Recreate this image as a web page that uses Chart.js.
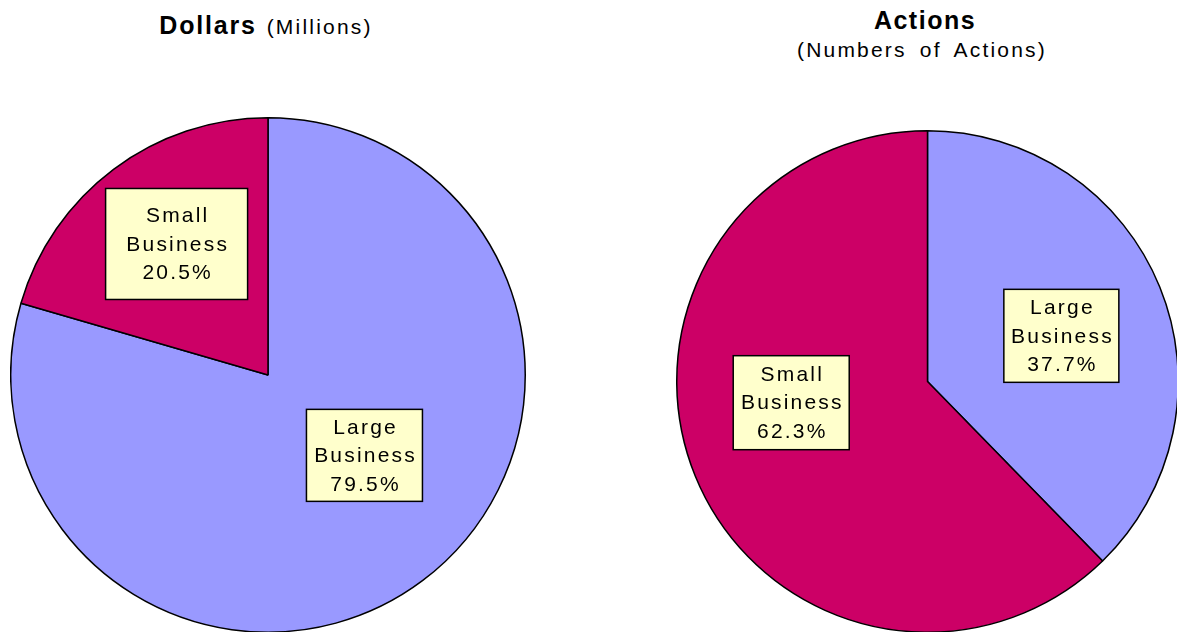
<!DOCTYPE html>
<html><head><meta charset="utf-8">
<script src="https://cdn.jsdelivr.net/npm/chart.js@4/dist/chart.umd.min.js"></script>
<style>
html,body{margin:0;padding:0;width:1177px;height:632px;overflow:hidden;background:#fff;font-family:"Liberation Sans",Arial,sans-serif;}
.t{position:absolute;white-space:nowrap;color:#000;text-align:center;}
.box{position:absolute;}
</style></head><body>
<div class="t" style="left:0;width:532px;top:10px;line-height:30px;"><span style="font-weight:bold;font-size:25px;letter-spacing:1.8px">Dollars</span><span style="font-size:21px;letter-spacing:2.2px;margin-left:10px">(Millions)</span></div>
<div class="t" style="left:725px;width:400px;top:5px;line-height:30px;font-weight:bold;font-size:25px;letter-spacing:1.5px">Actions</div>
<div class="t" style="left:722px;width:400px;top:35px;line-height:30px;font-size:21px;letter-spacing:2.2px;word-spacing:5px">(Numbers of Actions)</div>
<div class="box" style="left:10px;top:117px;width:516px;height:516px;"><canvas id="c1"></canvas></div>
<div class="box" style="left:676px;top:130px;width:503px;height:503px;"><canvas id="c2"></canvas></div>
<script>
const categories = ['Large Business', 'Small Business'];
const dollarsShare = [79.5, 20.5];
const actionsShare = [37.7, 62.3];
const sliceColors = ['#9999FF', '#CC0066'];

const labelPlugin = {
  id: 'boxLabels',
  afterDatasetsDraw(chart) {
    const cfg = chart.options.plugins.boxLabels;
    const ctx = chart.ctx;
    const meta = chart.getDatasetMeta(0);
    const vals = chart.data.datasets[0].data;
    meta.data.forEach((arc, i) => {
      const p = arc.getProps(['x', 'y', 'startAngle', 'endAngle', 'outerRadius'], true);
      const a = cfg.anchors[i];
      const mid = (p.startAngle + p.endAngle) / 2 + a.off * Math.PI / 180;
      const cx = p.x + Math.cos(mid) * a.f * p.outerRadius;
      const cy = p.y + Math.sin(mid) * a.f * p.outerRadius;
      ctx.save();
      ctx.fillStyle = '#FFFFCC';
      ctx.strokeStyle = '#000';
      ctx.lineWidth = 1.5;
      ctx.fillRect(cx - a.w / 2, cy - a.h / 2, a.w, a.h);
      ctx.strokeRect(cx - a.w / 2, cy - a.h / 2, a.w, a.h);
      const lines = chart.data.labels[i].split(' ').concat([vals[i].toFixed(1) + '%']);
      const sp = 2.2;
      ctx.font = '21px "Liberation Sans", Arial, sans-serif';
      ctx.letterSpacing = sp + 'px';
      ctx.fillStyle = '#000';
      ctx.textAlign = 'left';
      ctx.textBaseline = 'middle';
      const lh = 28.5;
      lines.forEach((ln, k) => {
        const w = ctx.measureText(ln).width - sp;
        ctx.fillText(ln, cx - w / 2, cy + 1 + (k - 1) * lh);
      });
      ctx.restore();
    });
  }
};

function makePie(id, values, anchors) {
  new Chart(document.getElementById(id), {
    type: 'pie',
    data: {
      labels: categories,
      datasets: [{
        data: values,
        backgroundColor: sliceColors,
        borderColor: '#000',
        borderWidth: 1.5
      }]
    },
    options: {
      responsive: true,
      maintainAspectRatio: false,
      animation: false,
      layout: { padding: 0 },
      plugins: {
        legend: { display: false },
        tooltip: { enabled: false },
        boxLabels: { anchors: anchors }
      }
    },
    plugins: [labelPlugin]
  });
}

makePie('c1', dollarsShare, [
  { f: 0.488, off: -13.3, w: 116, h: 92 },
  { f: 0.621, off: 2, w: 142, h: 111 }
]);
makePie('c2', actionsShare, [
  { f: 0.564, off: 3.3, w: 115, h: 93 },
  { f: 0.55, off: 13.3, w: 116, h: 94 }
]);
</script>
</body></html>
